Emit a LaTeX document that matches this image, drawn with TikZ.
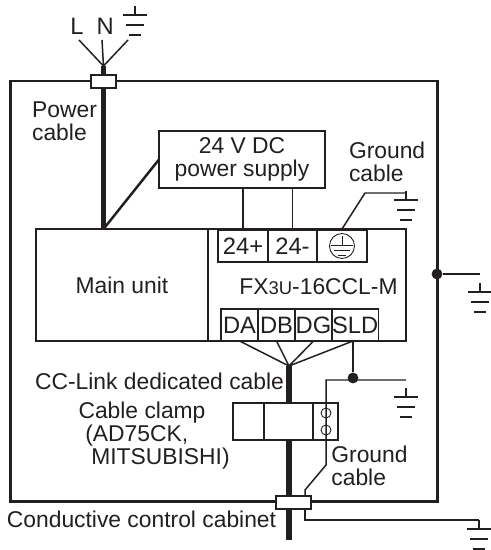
\documentclass[tikz,border=0pt]{standalone}
\usepackage{fontspec}
\setmainfont{Liberation Sans}
\usepackage{tikz}
\usetikzlibrary{calc,positioning}
\definecolor{inkline}{HTML}{231F20}
\tikzset{
	box/.style={draw=inkline,line width=.85pt,inner sep=0pt,outer sep=0pt,anchor=north west,text=inkline,font=\fontsize{13}{13.2}\selectfont},
	thinbox/.style={box,line width=.6pt,font=\fontsize{13.5}{14}\selectfont},
	wallbox/.style={box,line width=1.7pt},
	label/.style={inner sep=0pt,outer sep=0pt,text=inkline,align=left,font=\fontsize{13}{13.2}\selectfont},
	wire/.style={draw=inkline,line width=.85pt},
	powerwire/.style={draw=inkline,line width=1.4pt},
	cable/.style={draw=inkline,line width=3.2pt},
	junction/.style={circle,fill=inkline,inner sep=0pt,minimum size=6.2pt},
	earth/.pic={
		\draw[wire] (0,-9) -- (0,0);
		\draw[wire] (-12,0) -- (12,0) (-9,10) -- (9,10) (-6,20) -- (6,20);
	}
}
\begin{document}
\begin{tikzpicture}[x=.02cm,y=-.02cm]
	\useasboundingbox (0,0) rectangle (490,550);

	% control cabinet
	\node[wallbox,minimum width=8.54cm,minimum height=8.42cm] (cabinet) at (10.5,81) {};

	% boxes
	\node[box,minimum width=3.32cm,minimum height=1.14cm,align=center] (supply) at (159,131) {24 V DC\\power supply};
	\node[box,minimum width=3.44cm,minimum height=2.24cm] (mainunit) at (36,229) {};
	\node[box,minimum width=3.96cm,minimum height=2.24cm] (extunit) at (208,229) {};
	\node[thinbox,minimum height=.64cm,minimum width=1cm] (plus) at (218,230) {24+};
	\node[thinbox,minimum height=.64cm,minimum width=.98cm] (minus) at (268,230) {24-};
	\node[thinbox,minimum height=.64cm,minimum width=1cm] (fg) at (317,230) {};
	\node[thinbox,minimum height=.64cm,minimum width=.74cm] (da) at (221,309) {DA};
	\node[thinbox,minimum height=.64cm,minimum width=.74cm] (db) at (258,309) {DB};
	\node[thinbox,minimum height=.64cm,minimum width=.74cm] (dg) at (295,309) {DG};
	\node[thinbox,minimum height=.64cm,minimum width=.88cm] (sld) at (332,309) {SLD};
	\node[label] (mainlabel) at (122,285) {Main unit};
	\node[label] (fxlabel) at (318.5,287) {FX{\fontsize{10.5}{12}\selectfont 3U}-16CCL-M};

	% ground mark of the terminal
	\node[circle,draw=inkline,line width=.5pt,minimum size=.5cm,inner sep=0pt] (fgmark) at (342,246) {};
	\draw[inkline,line width=.5pt] (342,236) -- (342,245) (331,245) -- (353,245) (334,250) -- (350,250) (338,255) -- (346,255);

	% power side
	\coordinate (inL) at (79,40);
	\coordinate (inN) at (102,40);
	\coordinate (inE) at (128,40);
	\coordinate (powerjoin) at (103.5,66);
	\coordinate (powerend) at (103.5,229);
	\draw[cable,line width=2.4pt] (powerjoin) -- (powerend);
	\draw[wire] (inL) -- (powerjoin) (inN) -- (powerjoin) (inE) -- (powerjoin);
	\draw[powerwire] (supply.west) -- (powerend);
	\node[box,fill=white,minimum width=.5cm,minimum height=.26cm] (glandtop) at (91,75) {};
	\node[label,font=\fontsize{13.5}{14}\selectfont] (lnlabel) at (92,26) {L\hspace{7.4pt}N};
	\pic at (135,15) {earth};
	\node[label] (powerlabel) at (64.5,121) {Power\\cable};

	% supply wires
	\draw[powerwire,line width=1.1pt] (243,188) -- (243,230);
	\draw[powerwire,line width=1.1pt] (minus.north) -- (minus.north |- supply.south);

	% ground of the terminal
	\coordinate (fgbend) at (365,193);
	\coordinate (fgend) at (406,193);
	\draw[wire] (342,229) -- (fgbend) -- (fgend);
	\pic at (406,200) {earth};
	\node[label,anchor=west] (fglabel) at (349,162) {Ground\\cable};

	% cabinet ground
	\node[junction] (cabdot) at (437,274) {};
	\coordinate (cabbend) at (480,274);
	\draw[wire] (cabdot) -- (cabbend);
	\pic at (480,292) {earth};

	% bus cable
	\coordinate (busjoin) at (289,366);
	\coordinate (busend) at (289,540);
	\draw[cable] (busjoin) -- (busend);
	\draw[wire] (da.south) -- (busjoin) (db.south) -- (busjoin) (dg.south) -- (busjoin) (353,341) -- (busjoin);
	\node[label] (buslabel) at (159.5,381) {CC-Link dedicated cable};

	% clamp
	\node[box,fill=white,minimum width=2.1cm,minimum height=.74cm] (clamp) at (233,403) {};
	\draw[wire] (264,403) -- (264,440) (313,403) -- (313,440);
	\node[circle,draw=inkline,line width=.5pt,minimum size=.2cm,inner sep=0pt] (screwa) at (326,413) {};
	\node[circle,draw=inkline,line width=.5pt,minimum size=.2cm,inner sep=0pt] (screwb) at (326,430) {};
	\node[label,align=center] (clamplabel) at (142,413) {Cable clamp};
	\node[label] (clamplabelb) at (157.5,447) {(AD75CK,\\\hspace{3.4pt}MITSUBISHI)};

	% shield ground
	\node[junction] (shielddot) at (353,378) {};
	\coordinate (shieldleft) at (326,380);
	\coordinate (shieldright) at (406,380);
	\coordinate (shieldbend) at (326,465);
	\coordinate (shieldend) at (305,490);
	\draw[wire] (353,341) -- (shielddot);
	\draw[wire] (shieldright) -- (shieldleft) -- (shieldbend) -- (shieldend) -- (305,496);
	\pic at (406,397) {earth};
	\node[label] (shieldlabel) at (369.5,466) {Ground\\cable};

	% bottom gland
	\node[box,fill=white,minimum width=.7cm,minimum height=.26cm] (glandbottom) at (276,496) {};
	\coordinate (outbend) at (305,520);
	\coordinate (outend) at (479,520);
	\draw[wire] (305,509) -- (outbend) -- (outend);
	\pic at (479,529) {earth};
	\node[label] (cablabel) at (141.5,519) {Conductive control cabinet};
\end{tikzpicture}
\end{document}
